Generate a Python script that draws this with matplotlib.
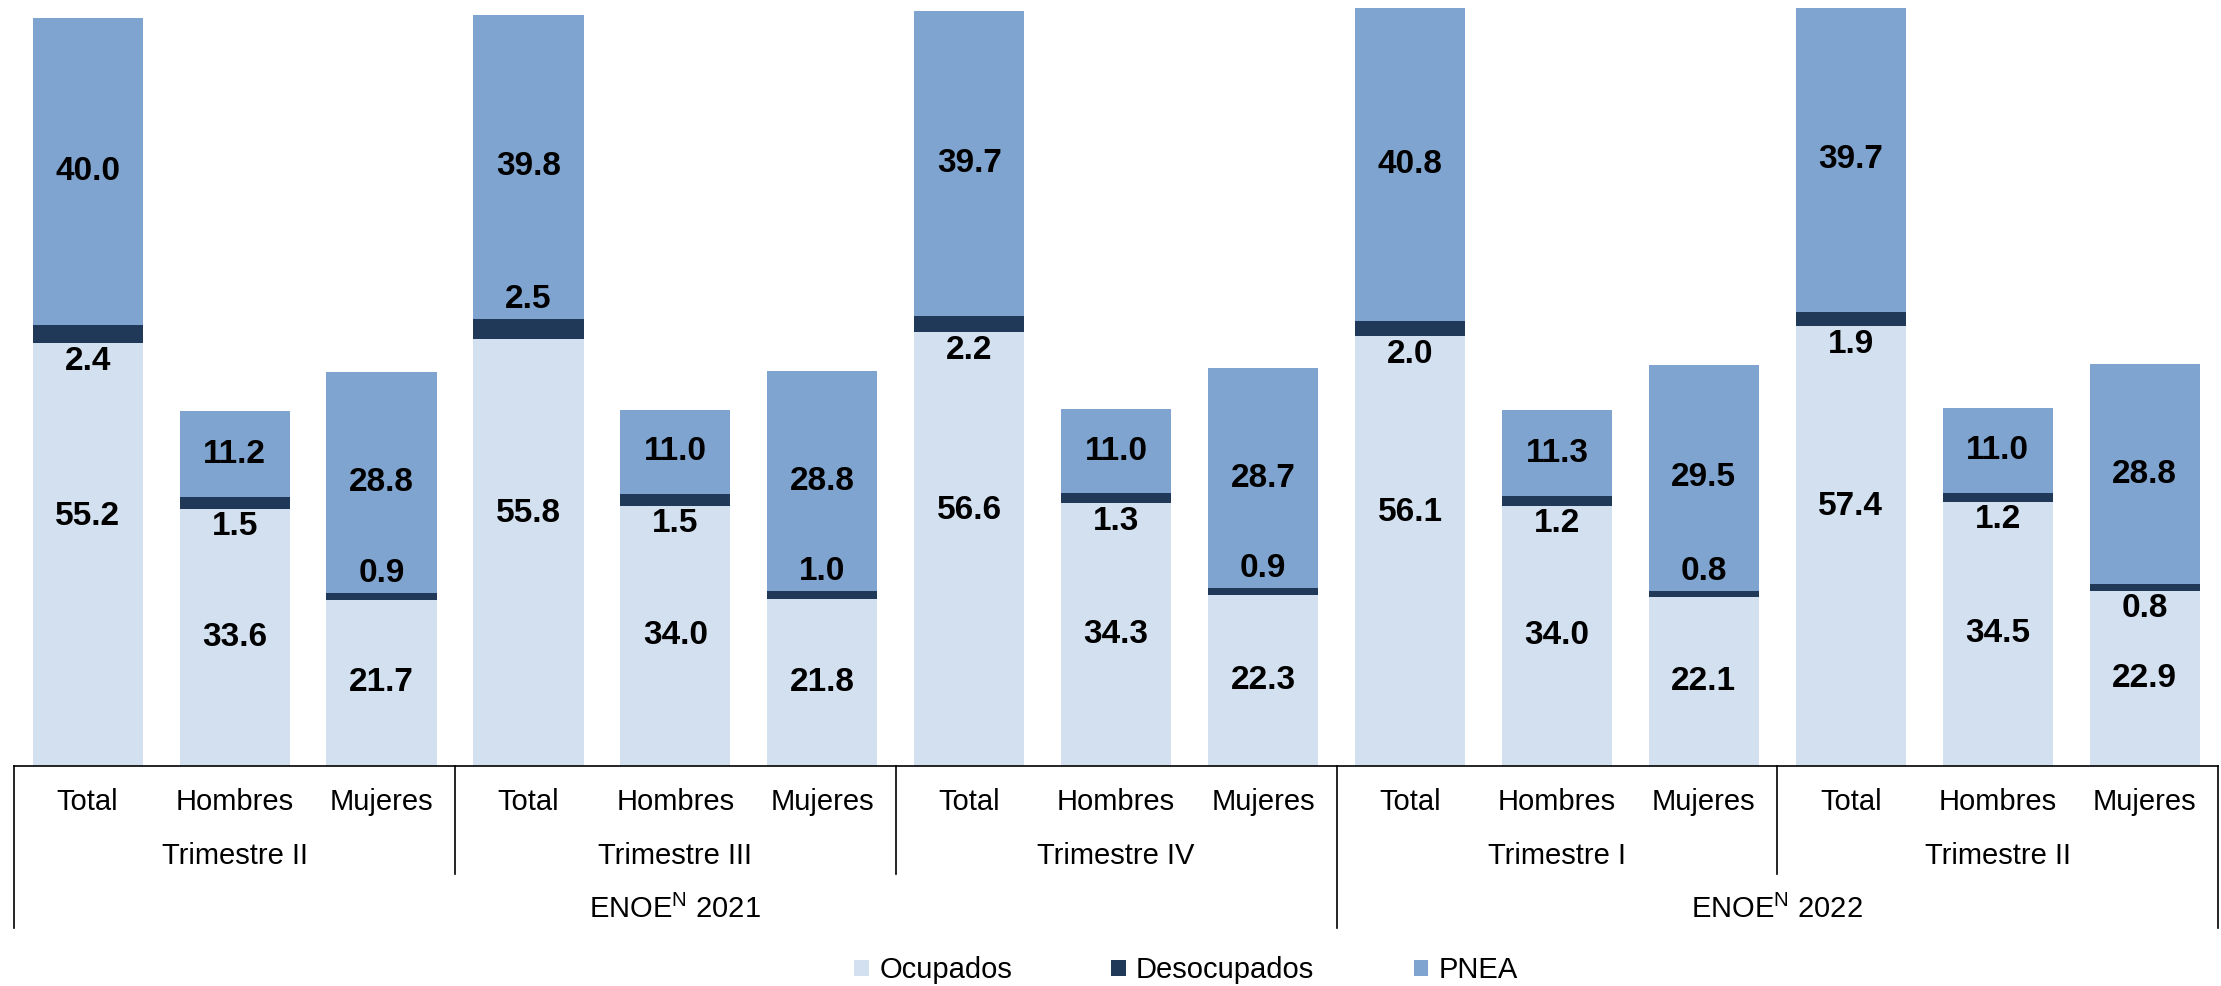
import matplotlib
matplotlib.use("Agg")
import matplotlib.pyplot as plt
import matplotlib.transforms as mtransforms
import numpy as np

plt.rcParams['font.family'] = ['Liberation Sans', 'DejaVu Sans']
plt.rcParams['mathtext.fontset'] = 'custom'
plt.rcParams['mathtext.rm'] = 'Liberation Sans'

# Datos (%)
categorias = ['Total', 'Hombres', 'Mujeres'] * 5
trimestres = ['Trimestre II', 'Trimestre III', 'Trimestre IV', 'Trimestre I', 'Trimestre II']
anios = [r'ENOE$^{\mathrm{N}}$ 2021', r'ENOE$^{\mathrm{N}}$ 2022']
ocupados = [55.2, 33.6, 21.7, 55.8, 34.0, 21.8, 56.6, 34.3, 22.3, 56.1, 34.0, 22.1, 57.4, 34.5, 22.9]
desocupados = [2.4, 1.5, 0.9, 2.5, 1.5, 1.0, 2.2, 1.3, 0.9, 2.0, 1.2, 0.8, 1.9, 1.2, 0.8]
pnea = [40.0, 11.2, 28.8, 39.8, 11.0, 28.8, 39.7, 11.0, 28.7, 40.8, 11.3, 29.5, 39.7, 11.0, 28.8]
# lado de la etiqueta de desocupados respecto a su franja
lado_deso = ['below', 'below', 'above', 'above', 'below', 'above', 'below', 'below', 'above',
             'below', 'below', 'above', 'below', 'below', 'below']

c_ocu = '#D3E0EF'
c_des = '#213959'
c_pnea = '#7FA4D0'

fig = plt.figure(figsize=(22.21, 9.86), dpi=100)
ax = fig.add_axes([0.0064, 0.2231, 0.9923, 0.7769])

x = np.arange(len(categorias))
ocu = np.array(ocupados)
des = np.array(desocupados)
pne = np.array(pnea)
w = 0.75

ax.bar(x, ocu, w, color=c_ocu, label='Ocupados')
ax.bar(x, des, w, bottom=ocu, color=c_des, label='Desocupados')
ax.bar(x, pne, w, bottom=ocu + des, color=c_pnea, label='PNEA')

lbl = dict(ha='center', va='center', fontsize=24, fontweight='bold', color='black')
for i in range(len(x)):
    frac = 0.59 if categorias[i] == 'Total' else 0.5
    ax.text(x[i], ocu[i] * frac, f'{ocu[i]:.1f}', **lbl)
    ax.text(x[i], ocu[i] + des[i] + pne[i] / 2, f'{pne[i]:.1f}', **lbl)
    if lado_deso[i] == 'above':
        ax.annotate(f'{des[i]:.1f}', (x[i], ocu[i] + des[i]), xytext=(0, 14),
                    textcoords='offset points', **lbl)
    else:
        ax.annotate(f'{des[i]:.1f}', (x[i], ocu[i]), xytext=(0, -13),
                    textcoords='offset points', **lbl)

ax.set_xlim(-0.5, len(x) - 0.5)
ax.set_ylim(0, 100)
for s in ['left', 'right', 'top']:
    ax.spines[s].set_visible(False)
ax.spines['bottom'].set_linewidth(1.2)
ax.set_xticks([])
ax.set_yticks([])

# Ejes de categorías jerárquicas
tr = mtransforms.blended_transform_factory(ax.transData, fig.transFigure)
y0 = 0.2231
y_trim = 0.1136
y_anio = 0.0588
lk = dict(color='black', lw=1.2, transform=tr, clip_on=False)
for xs in [-0.5, 8.5, 14.5]:
    ax.plot([xs, xs], [y0, y_anio], **lk)
for xs in [2.5, 5.5, 11.5]:
    ax.plot([xs, xs], [y0, y_trim], **lk)

for i, c in enumerate(categorias):
    ax.text(x[i], 0.187, c, transform=tr, ha='center', va='center', fontsize=21)
for j, t in enumerate(trimestres):
    ax.text(3 * j + 1, 0.132, t, transform=tr, ha='center', va='center', fontsize=21)
ax.text(4, 0.078, anios[0], transform=tr, ha='center', va='center', fontsize=21)
ax.text(11.5, 0.078, anios[1], transform=tr, ha='center', va='center', fontsize=21)

fig.legend(loc='center', bbox_to_anchor=(0.534, 0.016), ncol=3, frameon=False,
           fontsize=21, handlelength=0.5, handleheight=0.5, handletextpad=0.35,
           columnspacing=3.4)

fig.savefig('out.png', dpi=100)
